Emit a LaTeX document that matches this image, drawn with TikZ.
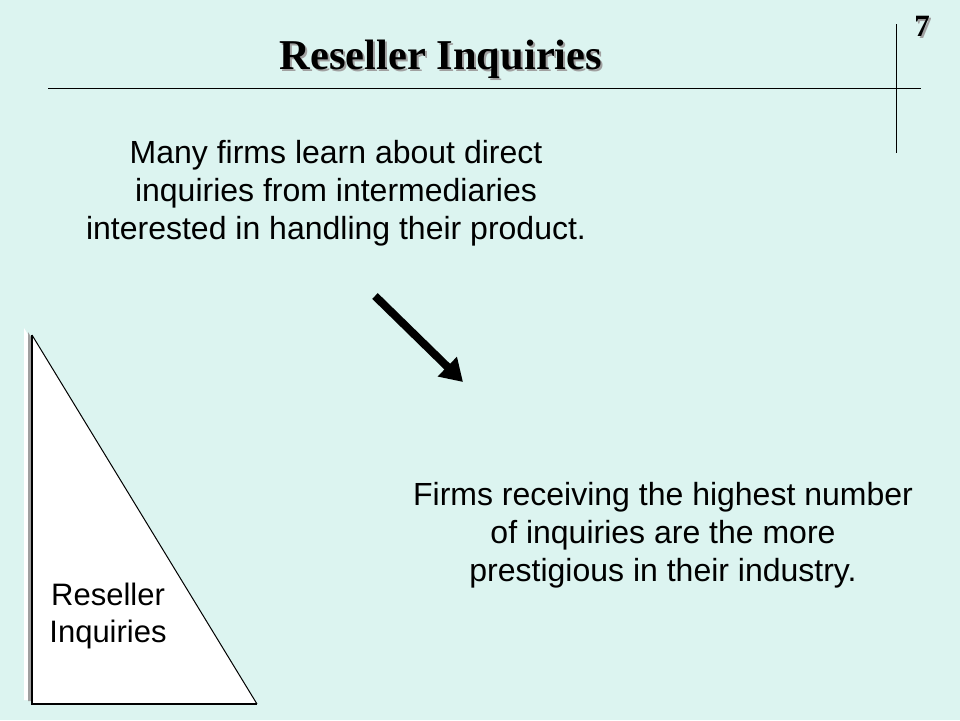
\documentclass[tikz,border=0pt]{standalone}
\usepackage{fontspec}
\setmainfont{Liberation Sans}
\newfontfamily\titleserif{Liberation Serif}
\usetikzlibrary{arrows.meta}
\definecolor{slidebg}{RGB}{220,244,240}
\definecolor{shadowgray}{RGB}{160,160,160}
\begin{document}
\begin{tikzpicture}[x=1pt,y=-1pt,
  bodytext/.style={inner sep=0pt, anchor=base, font=\fontsize{32}{38}\selectfont},
  titletext/.style={inner sep=0pt, anchor=base, font=\titleserif\bfseries\fontsize{42.5}{50}\selectfont},
  pagenum/.style={inner sep=0pt, anchor=base, font=\titleserif\bfseries\fontsize{31}{36}\selectfont},
  rule/.style={line width=1pt, black},
  bigarrow/.style={line width=8pt, -{Triangle[length=22pt,width=26pt]}}]
\fill[slidebg] (0,0) rectangle (960,720);
\useasboundingbox (0,0) rectangle (960,720);

% title with shadow
\node[titletext, text=shadowgray] (titleshadow) at (443,71) {Reseller Inquiries};
\node[titletext] (title) at (441,69) {Reseller Inquiries};
\node[pagenum, text=shadowgray] (pageshadow) at (924,38) {7};
\node[pagenum] (page) at (922,36) {7};

% rules
\draw[rule] (48,88) -- (921,88);
\draw[rule] (896,24) -- (896,153);

% text blocks
\node[bodytext] (topnote) at (336,163) {\begin{tabular}[t]{@{}c@{}}Many firms learn about direct\\inquiries from intermediaries\\interested in handling their product.\end{tabular}};
\node[bodytext] (bottomnote) at (663,505) {\begin{tabular}[t]{@{}c@{}}Firms receiving the highest number\\of inquiries are the more\\prestigious in their industry.\end{tabular}};

% triangle with bevel
\fill[white] (24,328) -- (24,700) -- (249,700) -- cycle;
\fill[shadowgray] (28,332) -- (28,701) -- (253,701) -- cycle;
\fill[white] (32,335) -- (32,704) -- (257,704) -- cycle;
\draw[line width=1pt] (32,335) -- (257,704);
\draw[line width=2pt] (32,335) -- (32,704) -- (257,704);
\node[bodytext, font=\fontsize{31}{37}\selectfont] (trilabel) at (108,605) {\begin{tabular}[t]{@{}c@{}}Reseller\\Inquiries\end{tabular}};

% arrow
\coordinate (arrowtail) at (375,296);
\coordinate (arrowtip) at (463,382);
\draw[bigarrow] (arrowtail) -- (arrowtip);
\end{tikzpicture}
\end{document}
